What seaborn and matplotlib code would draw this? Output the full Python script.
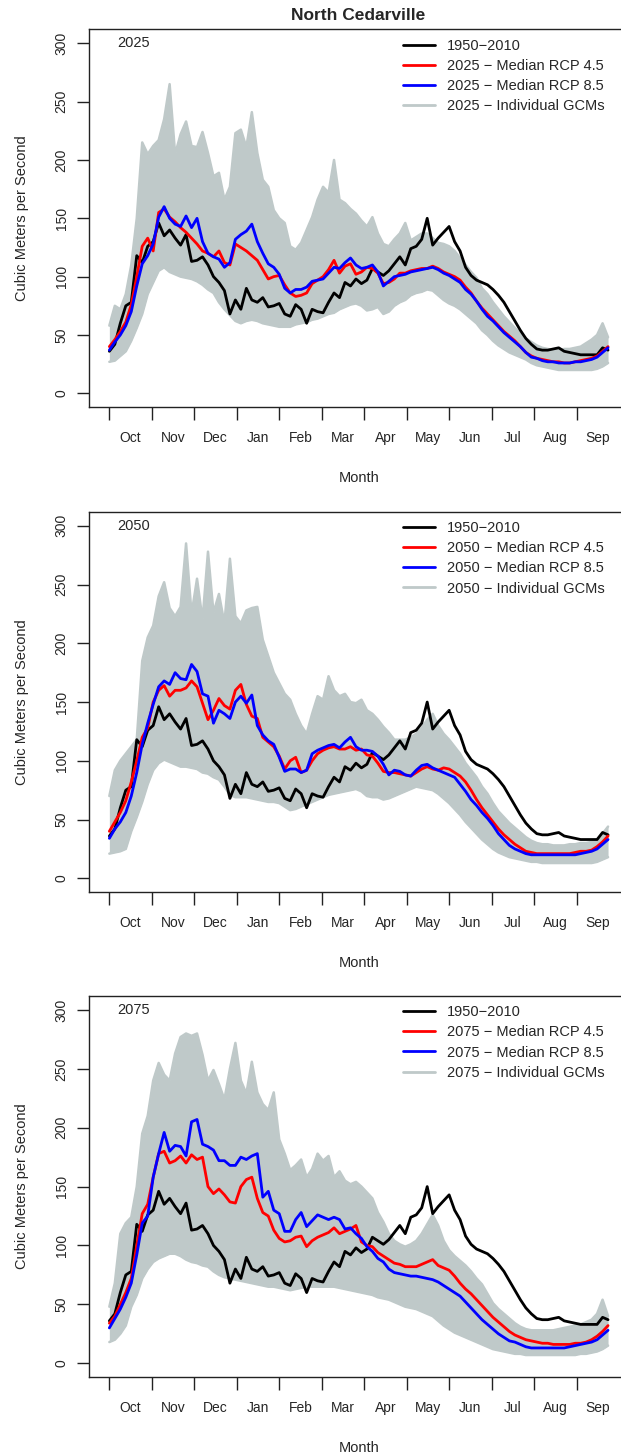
import numpy as np
import pandas as pd
import matplotlib
matplotlib.use("Agg")
import matplotlib.pyplot as plt
import seaborn as sns
from matplotlib.lines import Line2D

# ---------------- data (4-day steps) ----------------
days = np.arange(1, 366, 4)
month_ticks = [1, 32, 63, 94, 125, 156, 187, 218, 249, 280, 311, 342]
month_labels = ["Oct", "Nov", "Dec", "Jan", "Feb", "Mar", "Apr", "May", "Jun", "Jul", "Aug", "Sep"]
years = ["2025", "2050", "2075"]

hist_1950_2010 = [36, 42, 60, 75, 78, 118, 112, 126, 130, 146,
                  135, 140, 133, 127, 136, 113, 114, 117, 110, 100,
                  95, 88, 68, 80, 72, 90, 80, 78, 82, 74,
                  75, 77, 68, 66, 76, 72, 60, 72, 70, 69,
                  78, 86, 82, 95, 92, 98, 94, 97, 107, 104,
                  101, 105, 111, 117, 110, 124, 126, 132, 150, 127,
                  133, 138, 143, 130, 122, 108, 101, 97, 95, 93,
                  89, 84, 78, 70, 62, 54, 47, 42, 38, 37,
                  37, 38, 39, 36, 35, 34, 33, 33, 33, 33,
                  39, 37]

rcp45_2025 = [40, 46, 53, 61, 76, 100, 126, 133, 122, 155,
              158, 151, 147, 142, 138, 133, 128, 122, 120, 117,
              122, 112, 110, 128, 125, 122, 118, 114, 106, 98,
              100, 101, 93, 86, 83, 84, 86, 94, 97, 100,
              106, 114, 103, 109, 111, 102, 104, 108, 107, 103,
              94, 95, 98, 103, 103, 105, 106, 107, 107, 109,
              107, 104, 102, 100, 97, 91, 86, 79, 73, 68,
              63, 58, 53, 49, 45, 40, 35, 32, 30, 29,
              28, 27, 27, 26, 26, 27, 28, 29, 30, 32,
              36, 40]
rcp85_2025 = [37, 44, 50, 58, 70, 92, 111, 118, 128, 151,
              160, 150, 145, 143, 152, 142, 150, 130, 120, 117,
              115, 108, 112, 132, 136, 139, 145, 130, 120, 111,
              108, 102, 90, 86, 89, 89, 91, 96, 97, 98,
              103, 108, 107, 112, 116, 110, 107, 108, 110, 104,
              92, 96, 100, 101, 102, 104, 105, 106, 107, 108,
              106, 103, 101, 98, 95, 89, 85, 79, 72, 66,
              62, 57, 52, 48, 44, 40, 35, 31, 30, 28,
              27, 27, 26, 26, 26, 27, 27, 28, 29, 31,
              35, 39]
gcm_high_2025 = [58, 75, 72, 85, 110, 150, 215, 205, 212, 217,
                 235, 265, 205, 222, 233, 212, 211, 224, 206, 186,
                 189, 166, 177, 223, 226, 211, 241, 206, 183, 177,
                 157, 150, 146, 126, 123, 129, 140, 151, 166, 177,
                 172, 200, 166, 163, 158, 154, 148, 143, 151, 137,
                 128, 126, 132, 137, 146, 131, 134, 137, 137, 133,
                 129, 128, 126, 122, 116, 110, 104, 99, 90, 85,
                 78, 72, 66, 61, 56, 51, 47, 44, 41, 39,
                 38, 37, 37, 38, 38, 39, 40, 43, 46, 50,
                 60, 48]
gcm_low_2025 = [27, 28, 32, 36, 45, 56, 68, 85, 95, 105,
                108, 104, 102, 100, 99, 98, 96, 93, 89, 86,
                78, 72, 67, 62, 60, 62, 63, 62, 60, 59,
                58, 57, 57, 57, 59, 60, 61, 63, 64, 66,
                68, 69, 72, 74, 76, 77, 75, 71, 72, 74,
                68, 70, 75, 78, 80, 84, 86, 87, 89, 88,
                84, 80, 77, 75, 72, 68, 64, 60, 54, 50,
                45, 41, 38, 35, 33, 31, 29, 26, 24, 23,
                22, 21, 20, 20, 20, 20, 20, 20, 20, 21,
                23, 26]

rcp45_2050 = [40, 48, 56, 66, 82, 100, 120, 128, 150, 160,
              164, 155, 160, 160, 162, 168, 163, 149, 135, 143,
              153, 147, 144, 160, 165, 148, 138, 136, 120, 116,
              112, 104, 93, 100, 103, 90, 92, 100, 106, 109,
              111, 112, 110, 110, 112, 109, 110, 105, 104, 98,
              91, 90, 90, 89, 88, 87, 90, 93, 95, 93,
              92, 94, 93, 90, 87, 82, 75, 67, 60, 54,
              48, 42, 37, 33, 29, 26, 23, 22, 21, 21,
              21, 21, 21, 21, 21, 22, 23, 23, 24, 27,
              31, 36]
rcp85_2050 = [34, 42, 48, 56, 70, 90, 114, 132, 148, 163,
              168, 165, 175, 170, 169, 182, 176, 157, 155, 132,
              143, 140, 136, 150, 155, 149, 156, 130, 122, 117,
              114, 103, 91, 93, 93, 90, 92, 106, 109, 111,
              113, 114, 111, 116, 120, 112, 109, 109, 108, 104,
              97, 88, 92, 91, 88, 87, 92, 96, 97, 94,
              92, 90, 88, 86, 80, 74, 67, 62, 56, 51,
              45, 38, 33, 28, 25, 23, 21, 20, 20, 20,
              20, 20, 20, 20, 20, 20, 21, 22, 23, 25,
              29, 33]
gcm_high_2050 = [70, 92, 100, 106, 112, 118, 185, 205, 215, 240,
                 252, 230, 223, 231, 285, 225, 255, 220, 278, 226,
                 242, 217, 272, 223, 217, 228, 230, 231, 203, 189,
                 175, 166, 157, 152, 140, 130, 123, 140, 155, 152,
                 172, 160, 155, 157, 150, 149, 152, 143, 140, 135,
                 129, 124, 118, 118, 118, 120, 123, 128, 135, 140,
                 130, 123, 118, 112, 106, 98, 92, 86, 78, 72,
                 64, 57, 52, 47, 43, 39, 35, 32, 30, 29,
                 29, 28, 28, 28, 29, 29, 30, 30, 31, 33,
                 38, 44]
gcm_low_2050 = [21, 22, 23, 25, 40, 52, 65, 80, 92, 98,
                101, 99, 97, 95, 95, 94, 93, 90, 89, 86,
                84, 78, 71, 69, 69, 69, 68, 67, 66, 65,
                65, 64, 61, 58, 59, 61, 63, 65, 67, 69,
                71, 72, 73, 74, 75, 76, 74, 70, 69, 69,
                67, 68, 70, 72, 74, 76, 78, 77, 76, 75,
                72, 68, 64, 59, 54, 48, 43, 38, 33, 29,
                25, 22, 20, 18, 17, 16, 15, 14, 14, 13,
                13, 13, 13, 13, 13, 13, 13, 13, 13, 14,
                16, 18]

rcp45_2075 = [34, 40, 50, 60, 72, 100, 127, 135, 158, 178,
              180, 170, 172, 176, 170, 177, 173, 175, 150, 144,
              148, 143, 137, 136, 150, 156, 158, 140, 128, 125,
              113, 106, 103, 104, 107, 108, 99, 104, 107, 109,
              111, 115, 110, 112, 114, 117, 103, 100, 99, 94,
              91, 88, 85, 84, 82, 82, 82, 84, 86, 88,
              83, 81, 79, 74, 68, 63, 59, 54, 49, 44,
              39, 35, 31, 27, 24, 22, 20, 19, 18, 17,
              17, 16, 16, 16, 16, 17, 17, 18, 20, 23,
              27, 32]
rcp85_2075 = [30, 38, 46, 56, 68, 92, 119, 125, 158, 178,
              196, 180, 185, 184, 176, 205, 207, 186, 184, 181,
              172, 172, 168, 168, 175, 173, 176, 178, 141, 146,
              130, 127, 112, 112, 122, 128, 116, 121, 126, 124,
              122, 124, 122, 114, 115, 110, 106, 99, 95, 89,
              86, 80, 77, 76, 75, 74, 74, 73, 72, 71,
              69, 66, 63, 60, 57, 52, 47, 42, 37, 33,
              29, 25, 22, 19, 18, 16, 14, 13, 13, 13,
              13, 13, 13, 13, 14, 15, 16, 17, 18, 20,
              24, 28]
gcm_high_2075 = [48, 68, 110, 119, 124, 150, 195, 210, 240, 255,
                 245, 240, 263, 277, 280, 278, 280, 262, 240, 249,
                 237, 224, 250, 272, 240, 229, 256, 230, 220, 215,
                 230, 190, 178, 164, 168, 173, 158, 165, 178, 172,
                 176, 158, 163, 155, 152, 154, 150, 145, 140, 128,
                 120, 110, 104, 101, 99, 101, 104, 110, 118, 126,
                 117, 104, 96, 91, 87, 83, 78, 72, 67, 59,
                 51, 46, 42, 38, 34, 31, 29, 28, 28, 28,
                 28, 28, 29, 30, 31, 32, 33, 35, 37, 42,
                 54, 40]
gcm_low_2075 = [18, 20, 25, 32, 48, 58, 72, 80, 86, 89,
                91, 93, 93, 91, 88, 86, 85, 83, 82, 78,
                75, 73, 72, 71, 70, 69, 68, 67, 66, 65,
                65, 64, 63, 62, 63, 64, 65, 65, 65, 65,
                65, 65, 64, 63, 62, 61, 60, 59, 58, 56,
                55, 54, 52, 50, 48, 47, 46, 44, 42, 40,
                36, 32, 29, 26, 24, 22, 20, 18, 16, 14,
                12, 11, 10, 9, 8, 8, 7, 7, 7, 7,
                7, 7, 7, 7, 7, 7, 8, 8, 9, 10,
                12, 15]

panels = [
    ("2025", rcp45_2025, rcp85_2025, gcm_low_2025, gcm_high_2025),
    ("2050", rcp45_2050, rcp85_2050, gcm_low_2050, gcm_high_2050),
    ("2075", rcp45_2075, rcp85_2075, gcm_low_2075, gcm_high_2075),
]
for p in panels:
    for arr in p[1:]:
        assert len(arr) == len(days), (p[0], len(arr))
assert len(hist_1950_2010) == len(days)

# ---------------- style ----------------
sns.set_theme(style="white")
plt.rcParams["font.family"] = ["Liberation Sans", "DejaVu Sans"]
plt.rcParams["axes.edgecolor"] = "#222222"
plt.rcParams["axes.linewidth"] = 1.0

GRAY = "#bfc9c9"
W, H = 621, 1453
fig = plt.figure(figsize=(W / 100, H / 100), dpi=100)

boxes = [(89.4, 29.3, 628, 407.3), (89.4, 511.7, 628, 892.4), (89.4, 995.8, 628, 1377.4)]

for (year, r45, r85, lo, hi), (l, t, r, b) in zip(panels, boxes):
    ax = fig.add_axes([l / W, 1 - b / H, (r - l) / W, (b - t) / H])
    df = pd.DataFrame({"day": days, "hist": hist_1950_2010, "r45": r45,
                       "r85": r85, "lo": lo, "hi": hi})
    ax.fill_between(df["day"], df["lo"], df["hi"], color=GRAY, lw=0, zorder=1)
    sns.lineplot(data=df, x="day", y="hi", ax=ax, color=GRAY, linewidth=1.8, zorder=1.5)
    sns.lineplot(data=df, x="day", y="lo", ax=ax, color=GRAY, linewidth=1.8, zorder=1.5)
    sns.lineplot(data=df, x="day", y="hist", ax=ax, color="black", linewidth=2.0, zorder=3)
    sns.lineplot(data=df, x="day", y="r45", ax=ax, color="#ff0000", linewidth=2.0, zorder=4)
    sns.lineplot(data=df, x="day", y="r85", ax=ax, color="#0000ff", linewidth=2.0, zorder=5)

    ax.set_xlim(1 - 0.04 * 364, 365 + 0.04 * 364)
    ax.set_ylim(-12, 312)
    ax.set_yticks([0, 50, 100, 150, 200, 250, 300])
    ax.set_yticklabels(["0", "50", "100", "150", "200", "250", "300"],
                       rotation=90, va="center", fontsize=10)
    ax.set_xticks(month_ticks)
    ax.set_xticklabels([])
    ax.set_xticks([m + 15.5 for m in month_ticks], minor=True)
    ax.set_xticklabels(month_labels, minor=True, fontsize=10)
    ax.tick_params(axis="x", which="major", direction="out", length=9, width=1,
                   color="#222222", bottom=True)
    ax.tick_params(axis="x", which="minor", length=0, pad=17)
    ax.tick_params(axis="y", direction="out", length=9, width=1, color="#222222",
                   pad=6, left=True)
    ax.set_xlabel("Month", fontsize=10.5, labelpad=19)
    ax.set_ylabel("Cubic Meters per Second", fontsize=10.5)
    ax.yaxis.set_label_coords(-0.112, 0.5)
    for s in ax.spines.values():
        s.set_visible(True)

    ax.text(7, 300, year, ha="left", va="center", fontsize=10.5)

    handles = [Line2D([], [], color="black", lw=2.0),
               Line2D([], [], color="#ff0000", lw=2.0),
               Line2D([], [], color="#0000ff", lw=2.0),
               Line2D([], [], color=GRAY, lw=2.0)]
    labels = ["1950\u22122010", f"{year} \u2212 Median RCP 4.5",
              f"{year} \u2212 Median RCP 8.5", f"{year} \u2212 Individual GCMs"]
    ax.legend(handles, labels, loc="upper left", bbox_to_anchor=(0.582, 0.975),
              frameon=False, fontsize=10.5, handlelength=2.2, handletextpad=0.8,
              labelspacing=0.42, borderaxespad=0, borderpad=0)

fig.text(358 / W, 1 - 16 / H, "North Cedarville", ha="center", va="center",
         fontsize=12.5, fontweight="bold")

fig.savefig("out.png", dpi=100)
